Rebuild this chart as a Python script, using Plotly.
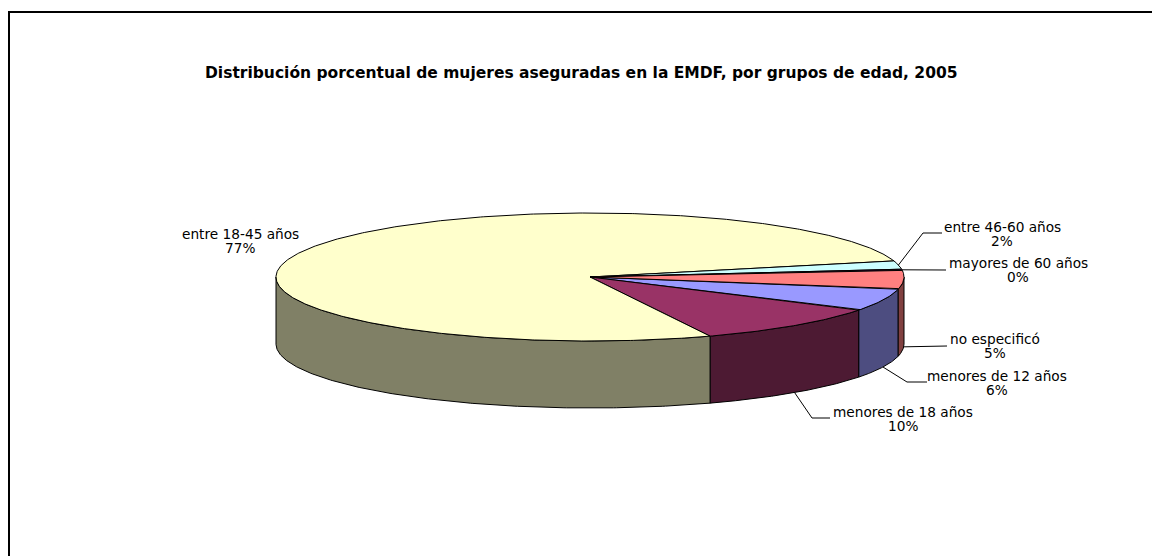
import numpy as np
import plotly.graph_objects as go

# ---------------- data ----------------
categories = ["menores de 12 años", "menores de 18 años", "entre 18-45 años",
              "entre 46-60 años", "mayores de 60 años", "no especificó"]
values = [5.6, 10.1, 77.2, 2.1, 0.3, 4.7]
title_text = "Distribución porcentual de mujeres aseguradas en la EMDF, por grupos de edad, 2005"

# ---------------- style ----------------
top_colors = ["#9999FF", "#993366", "#FFFFCC", "#CCFFFF", "#660066", "#FF8080"]
side_colors = ["#4D4D80", "#4D1A33", "#808066", "#668080", "#330033", "#804040"]
CX, CY, RX, RY, DEPTH = 590.0, 277.0, 314.0, 64.0, 67.0
FIRST_SLICE_ANGLE = 101.0  # degrees clockwise from 12 o'clock
FONT = "DejaVu Sans"
LABEL_SIZE = 13.7
# label text centres and leader-line waypoints (layout only)
label_pos = {
    "menores de 12 años": (997, 383, [(907, 382), (927, 382)]),
    "menores de 18 años": (903, 419, [(812, 418), (830, 418)]),
    "entre 18-45 años": (240, 241, None),
    "entre 46-60 años": (1002, 234, [(923, 233), (942, 233)]),
    "mayores de 60 años": (1018, 270, [(946, 270)]),
    "no especificó": (995, 346, [(947, 346)]),
}

W, H = 1160, 556
OFF = 8  # page body margin: axis units equal page pixels
fig = go.Figure()


def ell(theta_deg, drop=0.0):
    t = np.radians(theta_deg)
    return CX + RX * np.cos(t), CY - RY * np.sin(t) + drop


total = float(sum(values))
fractions = [v / total for v in values]

# angular ranges (math angles, counter-clockwise positive); pie runs clockwise
ranges = []
start = 90.0 - FIRST_SLICE_ANGLE
for f in fractions:
    end = start - 360.0 * f
    ranges.append((end, start))
    start = end

# ---- side walls (front half only) ----
for (a, b), col in zip(ranges, side_colors):
    for k in range(-2, 3):
        lo = max(a, -180.0 + 360.0 * k)
        hi = min(b, 0.0 + 360.0 * k)
        if hi - lo <= 1e-6:
            continue
        th = np.linspace(lo, hi, max(4, int((hi - lo) * 2)))
        xt, yt = ell(th)
        xb, yb = ell(th[::-1], DEPTH)
        xs = np.concatenate([xt, xb, xt[:1]])
        ys = np.concatenate([yt, yb, yt[:1]])
        fig.add_trace(go.Scatter(x=xs, y=ys, mode="lines", fill="toself",
                                 fillcolor=col, line=dict(color="black", width=1),
                                 hoverinfo="skip", showlegend=False))

# ---- top faces ----
for (a, b), col in zip(ranges, top_colors):
    th = np.linspace(a, b, max(4, int((b - a) * 2)))
    xa, ya = ell(th)
    xs = np.concatenate([[CX], xa, [CX]])
    ys = np.concatenate([[CY], ya, [CY]])
    fig.add_trace(go.Scatter(x=xs, y=ys, mode="lines", fill="toself",
                             fillcolor=col, line=dict(color="black", width=1),
                             hoverinfo="skip", showlegend=False))

# ---- labels + leader lines ----
for cat, v, (a, b) in zip(categories, values, ranges):
    pct = v / total * 100
    lx, ly, way = label_pos[cat]
    fig.add_annotation(x=lx, y=ly - 7.3, text=cat, showarrow=False,
                       xanchor="center", yanchor="middle",
                       font=dict(family=FONT, size=LABEL_SIZE, color="black"))
    fig.add_annotation(x=lx, y=ly + 7.3, text=f"{pct:.0f}%", showarrow=False,
                       xanchor="center", yanchor="middle",
                       font=dict(family=FONT, size=LABEL_SIZE, color="black"))
    if way:
        mid = (a + b) / 2.0
        front = np.sin(np.radians(mid)) < 0
        sx, sy = ell(mid, DEPTH if front else 0.0)
        xs = [sx] + [p[0] for p in way]
        ys = [sy] + [p[1] for p in way]
        fig.add_trace(go.Scatter(x=xs, y=ys, mode="lines",
                                 line=dict(color="black", width=1),
                                 hoverinfo="skip", showlegend=False))

# ---- title ----
fig.add_annotation(x=581, y=73, text=f"<b>{title_text}</b>", showarrow=False,
                   xanchor="center", yanchor="middle",
                   font=dict(family=FONT, size=15.5, color="black"))

# ---- chart frame ----
fig.add_shape(type="rect", x0=9, y0=12, x1=W + 40, y1=H + 40,
              line=dict(color="black", width=2), fillcolor="rgba(0,0,0,0)")

fig.update_layout(
    width=W, height=H, autosize=False,
    margin=dict(l=0, r=0, t=0, b=0, pad=0),
    paper_bgcolor="white", plot_bgcolor="white",
    xaxis=dict(range=[OFF, W + OFF], visible=False, fixedrange=True),
    yaxis=dict(range=[H + OFF, OFF], visible=False, fixedrange=True),
    showlegend=False,
)

fig.write_html("out.html")
